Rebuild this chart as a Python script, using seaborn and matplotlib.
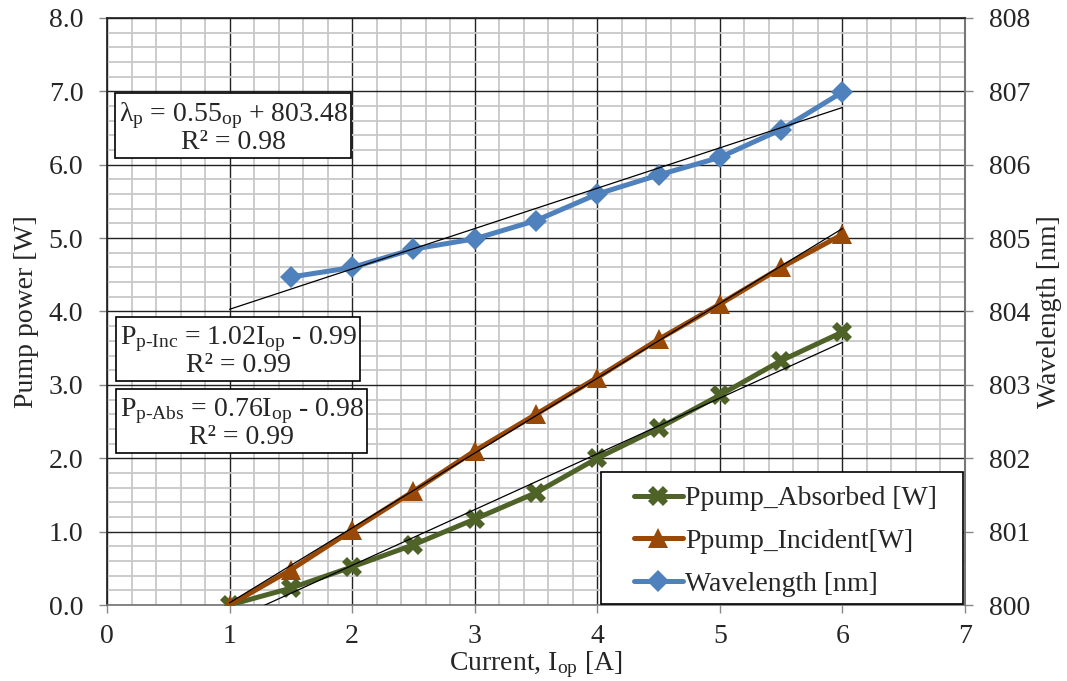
import numpy as np
import pandas as pd
import matplotlib
matplotlib.use("Agg")
import matplotlib.pyplot as plt
from matplotlib.ticker import MultipleLocator, FormatStrFormatter
from matplotlib.patches import Rectangle
import seaborn as sns

# ---- data ----
current = [1.0, 1.5, 2.0, 2.5, 3.0, 3.5, 4.0, 4.5, 5.0, 5.5, 6.0]
p_absorbed = [0.0, 0.23, 0.52, 0.82, 1.17, 1.53, 2.00, 2.41, 2.86, 3.33, 3.72]
p_incident = [0.0, 0.48, 1.02, 1.55, 2.10, 2.60, 3.10, 3.62, 4.10, 4.60, 5.05]
current_wl = [1.5, 2.0, 2.5, 3.0, 3.5, 4.0, 4.5, 5.0, 5.5, 6.0]
wavelength = [804.47, 804.60, 804.85, 804.99, 805.24, 805.60, 805.86, 806.10, 806.48, 806.99]

# trendline coefficients (slope, intercept) as shown in the chart
fit_wl = [0.55, 803.48]
fit_inc = [1.02, -0.99]
fit_abs = [0.76, -0.98]
trend_x = [1.0, 6.0]

labels = ["Ppump_Absorbed [W]", "Ppump_Incident[W]", "Wavelength [nm]"]
colors = ["#4F6228", "#984807", "#4F81BD"]

sns.set_theme(style="white")
plt.rcParams["font.family"] = ["Liberation Serif", "DejaVu Serif"]
plt.rcParams["mathtext.fontset"] = "custom"
plt.rcParams["mathtext.rm"] = "Liberation Serif"
plt.rcParams["mathtext.it"] = "Liberation Serif:italic"

FS = 20

fig = plt.figure(figsize=(10.67, 6.81), dpi=100)
ax = fig.add_axes([0.1003, 0.1116, 0.8041, 0.862])
ax2 = ax.twinx()

df_abs = pd.DataFrame({"x": current, "y": p_absorbed})
df_inc = pd.DataFrame({"x": current, "y": p_incident})
df_wl = pd.DataFrame({"x": current_wl, "y": wavelength})

sns.lineplot(data=df_abs, x="x", y="y", ax=ax, color=colors[0], lw=3.6,
             marker="X", markersize=14, markeredgewidth=0, label=labels[0], zorder=3)
sns.lineplot(data=df_inc, x="x", y="y", ax=ax, color=colors[1], lw=3.6,
             marker="^", markersize=15, markeredgewidth=0, label=labels[1], zorder=3)
sns.lineplot(data=df_wl, x="x", y="y", ax=ax2, color=colors[2], lw=3.6,
             marker="D", markersize=11, markeredgewidth=0, label=labels[2], zorder=3)

tx = np.array(trend_x)
ax.plot(tx, fit_inc[0] * tx + fit_inc[1], color="black", lw=0.9, zorder=4)
ax.plot(tx, fit_abs[0] * tx + fit_abs[1], color="black", lw=0.9, zorder=4)
ax2.plot(tx, fit_wl[0] * tx + fit_wl[1], color="black", lw=0.9, zorder=4)

ax.set_xlim(0, 7)
ax.set_ylim(0, 8)
ax2.set_ylim(800, 808)
ax.xaxis.set_major_locator(MultipleLocator(1))
ax.xaxis.set_minor_locator(MultipleLocator(0.2))
ax.yaxis.set_major_locator(MultipleLocator(1))
ax.yaxis.set_minor_locator(MultipleLocator(0.2))
ax.yaxis.set_major_formatter(FormatStrFormatter("%.1f"))
ax2.yaxis.set_major_locator(MultipleLocator(1))
ax2.yaxis.set_major_formatter(FormatStrFormatter("%d"))
ax.xaxis.set_major_formatter(FormatStrFormatter("%d"))

ax.grid(which="minor", color="#C8C8C8", lw=1.3)
ax.grid(which="major", color="#222222", lw=1.0)
ax.set_axisbelow(True)

ax.tick_params(axis="x", which="major", direction="out", length=6, width=1,
               color="#888888", labelsize=FS, bottom=True, pad=8)
ax.tick_params(axis="y", which="major", direction="out", length=6, width=1,
               color="#888888", labelsize=FS, left=True, pad=11)
ax.tick_params(which="minor", length=0)
ax2.tick_params(axis="y", which="major", direction="out", length=6, width=1,
                color="#888888", labelsize=FS, right=True, pad=11)
for s in ["top", "right"]:
    ax.spines[s].set_visible(False)
ax.spines["left"].set_color("#222222")
ax.spines["bottom"].set_color("#777777")
ax2.spines["right"].set_color("#777777")
ax2.spines["right"].set_linewidth(1.5)
ax2.spines["top"].set_color("#222222")
ax2.spines["left"].set_visible(False)
ax2.spines["bottom"].set_visible(False)

ax.set_xlabel(r"Current, I$_{\rm op}$ [A]", fontsize=FS, labelpad=0)
ax.set_ylabel("Pump power [W]", fontsize=FS, labelpad=7)
ax2.set_ylabel("Wavelength [nm]", fontsize=FS, labelpad=5)

# legend combining both axes, with a separate frame box
h1, l1 = ax.get_legend_handles_labels()
h2, l2 = ax2.get_legend_handles_labels()
ax.get_legend().remove()
frame = Rectangle(((601 - 107) / 858, 0.002), (963 - 601) / 858, (604 - 472) / 587,
                  transform=ax.transAxes, fc="white", ec="black", lw=1.2,
                  zorder=9, clip_on=False)
ax2.add_patch(frame)
leg = ax2.legend(h1 + h2, l1 + l2, loc="upper left", fontsize=FS,
                 frameon=False, borderpad=0, labelspacing=0.62,
                 handlelength=1.75, handletextpad=0.1, borderaxespad=0,
                 bbox_to_anchor=((634 - 107) / 858, (605 - 486) / 587))
leg.set_zorder(10)

box = dict(boxstyle="square,pad=0.12", fc="white", ec="black", lw=1.2)
ax2.text(0.147, 0.813, "λ$_{\\rm p}$ = 0.55$_{\\rm op}$ + 803.48\nR² = 0.98",
         transform=ax.transAxes, ha="center", va="center", fontsize=FS,
         multialignment="center", linespacing=0.95, bbox=box, zorder=11)
ax2.text(0.153, 0.433, "P$_{\\rm p\\text{-}Inc}$ = 1.02I$_{\\rm op}$ - 0.99\nR² = 0.99",
         transform=ax.transAxes, ha="center", va="center", fontsize=FS,
         multialignment="center", linespacing=0.95, bbox=box, zorder=11)
ax2.text(0.157, 0.310, "P$_{\\rm p\\text{-}Abs}$ = 0.76I$_{\\rm op}$ - 0.98\nR² = 0.99",
         transform=ax.transAxes, ha="center", va="center", fontsize=FS,
         multialignment="center", linespacing=0.95, bbox=box, zorder=11)

fig.savefig("out.png", dpi=100)
